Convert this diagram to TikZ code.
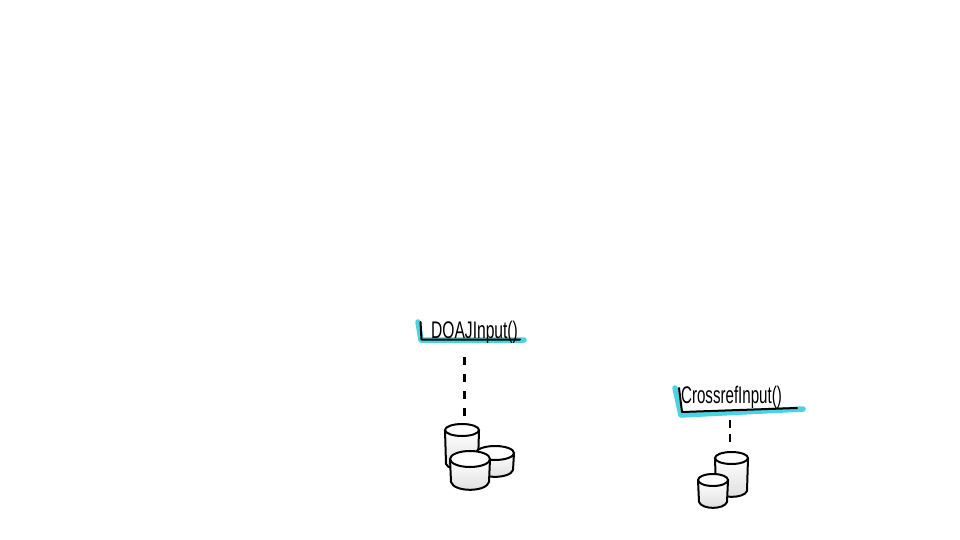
\documentclass[tikz,border=0pt]{standalone}
\usepackage{fontspec}
\setmainfont{Liberation Sans}
\definecolor{marker}{HTML}{4AD3E0}
\tikzset{
   pics/tank/.style n args={3}{code={
      \coordinate (-top) at (0,0);
      \path[draw=black, line width=2pt, line join=round, top color=white, bottom color=black!13]
         (-#1/2,#3) -- (-#1/2+1,#2-#3) .. controls (-#1/2+4,#2+#3*0.3) and (#1/2-4,#2+#3*0.3) .. (#1/2-1,#2-#3) -- (#1/2,#3);
      \path[draw=black, line width=2pt, fill=white] (0,#3) ellipse [x radius=#1/2, y radius=#3];
   }},
   inputlabel/.style={font=\fontsize{24}{26}\selectfont, inner sep=1pt},
   glow/.style={draw=marker, line width=5.5pt, line join=round, line cap=round},
   rule/.style={draw=black, line width=2pt, line join=round, line cap=round},
   dashline/.style={draw=black, line width=2.4pt}
}
\begin{document}
\begin{tikzpicture}[x=1pt, y=-1pt]
      \useasboundingbox (0,0) rectangle (960,540);

      \path[glow] (418,322) -- (421,340) -- (524,340);
      \path[rule] (420.5,322) -- (421.5,339.5) -- (520,339.5);
      \path[glow] (675,388) -- (681,415) -- (803,409);
      \path[rule] (679,388) -- (682,412) -- (797,408);

      \node[inputlabel, name=doajlabel] at (474.5,332) {\scalebox{0.65}[1]{DOAJInput()}};
      \node[inputlabel, name=crossreflabel] at (731.5,397) {\scalebox{0.63}[1]{CrossrefInput()}};

      \pic (doajback) at (462,424) {tank={34}{46}{6}};
      \pic (doajright) at (495,446) {tank={38}{31}{7}};
      \pic (doajfront) at (470,451) {tank={40}{39}{8}};

      \pic (crossrefback) at (731.5,452) {tank={33}{45}{6}};
      \pic (crossreffront) at (713,474) {tank={30}{34}{6}};

      \coordinate (doajfoot) at (464.5,416);
      \coordinate (crossreffoot) at (730,447);

      \path[dashline, dash pattern=on 8pt off 9pt, shorten <=13pt]
         (doajlabel.south -| doajfoot) edge (doajfoot);
      \path[dashline, dash pattern=on 8pt off 6pt, shorten <=11pt]
         (crossreflabel.south -| crossreffoot) edge (crossreffoot);
   \end{tikzpicture}
\end{document}
